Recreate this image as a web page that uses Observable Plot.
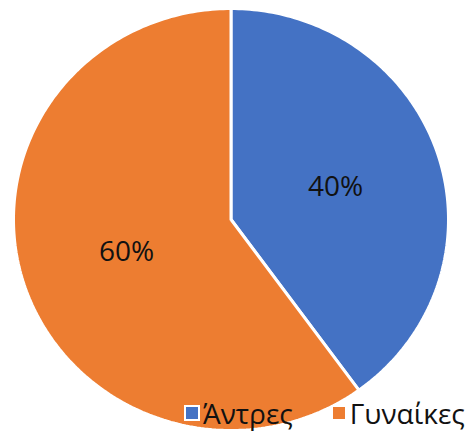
<!DOCTYPE html>
<html>
<head>
<meta charset="utf-8">
<script src="https://cdn.jsdelivr.net/npm/d3@7"></script>
<script src="https://cdn.jsdelivr.net/npm/@observablehq/plot@0.6"></script>
<style>
  body { margin: 0; background: #fff; }
  #wrap { position: relative; width: 467px; height: 434px; overflow: hidden; }
  #legend { position: absolute; left: 184px; top: 394px; display: flex; align-items: center;
    font-family: "Open Sans", sans-serif; font-size: 28px; color: #111; white-space: nowrap; }
  .item { display: flex; align-items: center; }
  .sw { width: 12px; height: 12px; border: 2px solid #fff; margin-right: 3px; }
</style>
</head>
<body>
<div id="wrap"><div id="legend"></div></div>
<script>
const categories = ["Άντρες", "Γυναίκες"];
const values = [40, 60];
const labels = ["40%", "60%"];
const colors = ["#4472C4", "#ED7D31"];

const total = d3.sum(values);
const slices = [];
let acc = 0;
categories.forEach((c, i) => {
  const a0 = acc / total * 2 * Math.PI;
  acc += values[i];
  const a1 = acc / total * 2 * Math.PI;
  slices.push({cat: c, a0, a1, label: labels[i], color: colors[i]});
});

const poly = [];
slices.forEach(s => {
  poly.push({cat: s.cat, x: 0, y: 0});
  const n = Math.max(2, Math.ceil((s.a1 - s.a0) / (Math.PI / 180)));
  for (let k = 0; k <= n; k++) {
    const a = s.a0 + (s.a1 - s.a0) * k / n;
    poly.push({cat: s.cat, x: Math.sin(a), y: Math.cos(a)});
  }
  poly.push({cat: s.cat, x: 0, y: 0});
});

const labelPts = slices.map(s => {
  const m = (s.a0 + s.a1) / 2;
  return {x: 0.505 * Math.sin(m), y: 0.505 * Math.cos(m), label: s.label};
});

const W = 467, H = 434;
const chart = Plot.plot({
  width: W, height: H,
  marginLeft: 13, marginRight: 19, marginTop: 8, marginBottom: 4,
  x: {domain: [-1, 1], axis: null},
  y: {domain: [-1, 1], axis: null},
  color: {domain: categories, range: colors},
  marks: [
    ...slices.map(s => Plot.line(poly.filter(p => p.cat === s.cat), {
      x: "x", y: "y", fill: s.color, stroke: "#fff", strokeWidth: 3,
      strokeLinejoin: "miter", curve: "linear"
    })),
    Plot.text(labelPts, {x: "x", y: "y", text: "label", fontSize: 28,
      fontFamily: "Open Sans", fill: "#111"})
  ]
});
chart.style.display = "block";
const wrap = document.getElementById("wrap");
wrap.insertBefore(chart, wrap.firstChild);

const legend = document.getElementById("legend");
categories.forEach((c, i) => {
  const it = document.createElement("div");
  it.className = "item";
  it.style.marginRight = i === 0 ? "38px" : "0";
  const sw = document.createElement("div");
  sw.className = "sw";
  sw.style.background = colors[i];
  const t = document.createElement("span");
  t.textContent = c;
  it.appendChild(sw); it.appendChild(t);
  legend.appendChild(it);
});
</script>
</body>
</html>
